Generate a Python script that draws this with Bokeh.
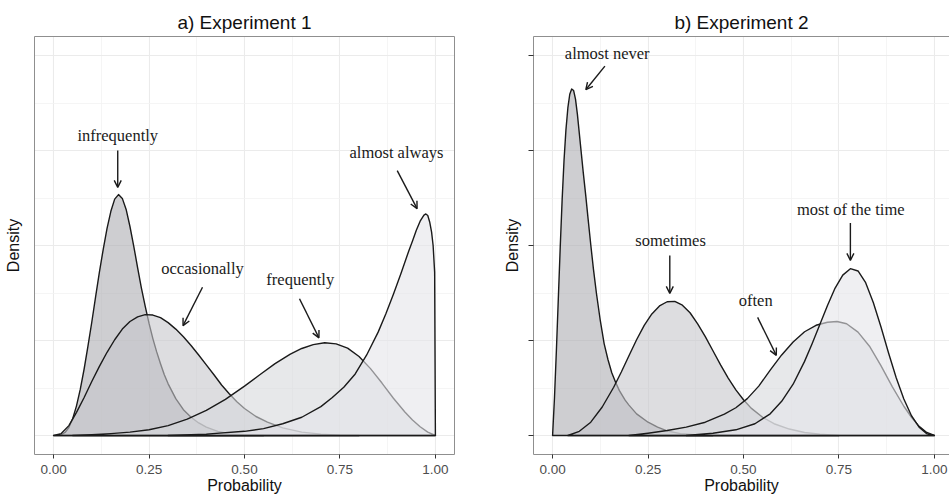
from bokeh.plotting import figure
from bokeh.layouts import row
from bokeh.models import ColumnDataSource, FixedTicker, Arrow, OpenHead, LinearAxis
from bokeh.core.properties import value
from bokeh.embed import file_html
from bokeh.resources import INLINE

# ---- Experiment 1: density of probability judgements per phrase ----
infrequently_x = [0.00, 0.01, 0.02, 0.03, 0.04, 0.05, 0.06, 0.07, 0.08, 0.09, 0.10, 0.11,
                  0.12, 0.13, 0.14, 0.15, 0.16, 0.17, 0.18, 0.19, 0.20, 0.21, 0.22, 0.23,
                  0.24, 0.25, 0.26, 0.27, 0.28, 0.29, 0.30, 0.32, 0.34, 0.36, 0.38, 0.40,
                  0.43, 0.46, 0.50, 0.55]
infrequently_y = [0.00, 0.00, 0.02, 0.08, 0.21, 0.44, 0.78, 1.22, 1.75, 2.35, 2.98, 3.65,
                  4.30, 4.90, 5.45, 5.90, 6.22, 6.34, 6.24, 5.95, 5.50, 4.98, 4.42, 3.88,
                  3.40, 2.95, 2.55, 2.20, 1.89, 1.60, 1.36, 0.97, 0.68, 0.48, 0.33, 0.22,
                  0.11, 0.05, 0.02, 0.00]

occasionally_x = [0.00, 0.02, 0.04, 0.06, 0.08, 0.10, 0.12, 0.14, 0.16, 0.18, 0.20, 0.22,
                  0.24, 0.26, 0.28, 0.30, 0.32, 0.34, 0.36, 0.38, 0.40, 0.42, 0.44, 0.46,
                  0.48, 0.50, 0.53, 0.56, 0.60, 0.65, 0.70, 0.75, 0.80]
occasionally_y = [0.00, 0.05, 0.26, 0.61, 1.00, 1.42, 1.82, 2.19, 2.52, 2.80, 3.00, 3.12,
                  3.18, 3.17, 3.10, 2.97, 2.80, 2.60, 2.37, 2.12, 1.86, 1.60, 1.33, 1.10,
                  0.89, 0.71, 0.50, 0.35, 0.20, 0.09, 0.035, 0.01, 0.00]

frequently_x = [0.05, 0.10, 0.15, 0.20, 0.25, 0.30, 0.35, 0.40, 0.45, 0.50, 0.54, 0.58,
                0.62, 0.65, 0.68, 0.71, 0.74, 0.77, 0.80, 0.83, 0.86, 0.89, 0.92, 0.94,
                0.96, 0.98, 1.00]
frequently_y = [0.00, 0.02, 0.05, 0.09, 0.15, 0.26, 0.43, 0.66, 0.95, 1.30, 1.60, 1.89,
                2.14, 2.29, 2.39, 2.44, 2.41, 2.30, 2.08, 1.76, 1.38, 0.98, 0.62, 0.41,
                0.23, 0.09, 0.00]

almost_always_x = [0.30, 0.40, 0.50, 0.55, 0.60, 0.65, 0.70, 0.73, 0.76, 0.79, 0.82, 0.85,
                   0.87, 0.89, 0.91, 0.93, 0.94, 0.95, 0.96, 0.97, 0.975, 0.98, 0.985,
                   0.99, 0.994, 0.998, 1.00]
almost_always_y = [0.00, 0.035, 0.11, 0.18, 0.31, 0.48, 0.76, 1.00, 1.27, 1.62, 2.12, 2.72,
                   3.20, 3.72, 4.27, 4.85, 5.12, 5.40, 5.64, 5.80, 5.83, 5.79, 5.62,
                   5.35, 5.00, 4.30, 0.00]

# ---- Experiment 2 ----
almost_never_x = [0.000, 0.005, 0.010, 0.015, 0.020, 0.025, 0.030, 0.035, 0.040, 0.045,
                  0.050, 0.055, 0.060, 0.065, 0.070, 0.075, 0.080, 0.087, 0.093, 0.100,
                  0.107, 0.115, 0.125, 0.135, 0.145, 0.155, 0.165, 0.175, 0.190, 0.200,
                  0.220, 0.250, 0.275, 0.300, 0.335, 0.380, 0.420]
almost_never_y = [0.00, 1.00, 2.25, 3.60, 4.95, 6.20, 7.25, 8.05, 8.62, 8.98,
                  9.12, 9.08, 8.85, 8.45, 7.95, 7.45, 6.95, 6.30, 5.70, 5.02,
                  4.38, 3.73, 3.02, 2.42, 2.00, 1.65, 1.40, 1.18, 0.93, 0.80,
                  0.57, 0.35, 0.22, 0.12, 0.05, 0.015, 0.00]

sometimes_x = [0.04, 0.07, 0.10, 0.13, 0.16, 0.18, 0.20, 0.22, 0.24, 0.26, 0.28, 0.30,
               0.32, 0.34, 0.36, 0.38, 0.40, 0.42, 0.44, 0.46, 0.48, 0.50, 0.52, 0.55,
               0.58, 0.62, 0.66, 0.70, 0.75]
sometimes_y = [0.00, 0.11, 0.35, 0.75, 1.27, 1.67, 2.10, 2.52, 2.90, 3.20, 3.41, 3.52,
               3.53, 3.43, 3.23, 2.94, 2.60, 2.23, 1.86, 1.51, 1.20, 0.94, 0.72, 0.48,
               0.31, 0.17, 0.08, 0.035, 0.00]

often_x = [0.20, 0.25, 0.30, 0.35, 0.40, 0.45, 0.48, 0.51, 0.54, 0.57, 0.60, 0.63,
           0.66, 0.69, 0.72, 0.745, 0.77, 0.80, 0.83, 0.86, 0.89, 0.92, 0.94, 0.96,
           0.98, 1.00]
often_y = [0.00, 0.06, 0.13, 0.22, 0.35, 0.56, 0.73, 0.97, 1.30, 1.72, 2.12, 2.46,
           2.73, 2.90, 2.98, 3.00, 2.94, 2.72, 2.35, 1.84, 1.28, 0.77, 0.48, 0.24,
           0.08, 0.00]

most_of_the_time_x = [0.35, 0.42, 0.48, 0.53, 0.57, 0.60, 0.63, 0.66, 0.68, 0.70, 0.72,
                      0.74, 0.76, 0.78, 0.80, 0.82, 0.84, 0.86, 0.88, 0.90, 0.92, 0.94,
                      0.96, 0.98, 1.00]
most_of_the_time_y = [0.00, 0.06, 0.15, 0.31, 0.57, 0.90, 1.35, 1.95, 2.42, 2.92, 3.42,
                      3.88, 4.22, 4.39, 4.33, 4.02, 3.50, 2.86, 2.17, 1.52, 0.96, 0.52,
                      0.22, 0.05, 0.00]

# ---- annotation labels and arrows (data coordinates) ----
exp1_labels = ["infrequently", "occasionally", "frequently", "almost always"]
exp1_label_x = [0.168, 0.390, 0.646, 0.898]
exp1_label_y = [7.89, 4.39, 4.10, 7.45]
exp1_arrow_x0 = [0.168, 0.390, 0.644, 0.900]
exp1_arrow_y0 = [7.50, 3.90, 3.60, 6.97]
exp1_arrow_x1 = [0.168, 0.339, 0.695, 0.952]
exp1_arrow_y1 = [6.53, 2.89, 2.57, 5.97]

exp2_labels = ["almost never", "sometimes", "often", "most of the time"]
exp2_label_x = [0.143, 0.309, 0.532, 0.781]
exp2_label_y = [10.06, 5.13, 3.55, 5.94]
exp2_arrow_x0 = [0.137, 0.307, 0.537, 0.780]
exp2_arrow_y0 = [9.72, 4.74, 3.11, 5.59]
exp2_arrow_x1 = [0.087, 0.307, 0.586, 0.780]
exp2_arrow_y1 = [9.10, 3.74, 2.11, 4.61]

x_ticks = [0.0, 0.25, 0.5, 0.75, 1.0]
x_tick_labels = ["0.00", "0.25", "0.50", "0.75", "1.00"]
x_minor = [0.125, 0.375, 0.625, 0.875]
y_ticks = [0.0, 2.5, 5.0, 7.5, 10.0]
y_minor = [1.25, 3.75, 6.25, 8.75]

FILLS = ["#adaeb3", "#c6c7cc", "#d7d8dc", "#e4e5e9"]
INK = "#1a1a1a"
BORDER = "#8f8f8f"
SANS = "Liberation Sans"
SERIF = "Liberation Serif"


def border_axis():
    # a bare axis used only to draw one side of the panel border
    return LinearAxis(ticker=FixedTicker(ticks=[]), axis_line_color=BORDER, axis_line_width=1,
                      major_tick_line_color=None, minor_tick_line_color=None,
                      major_label_text_font_size="0px")


def make_panel(title, curves, labels, lx, ly, ax0, ay0, ax1, ay1, width, frame_left,
               frame_right_pad, x_end, y_tick_marks, right_border):
    p = figure(width=width, height=498, x_range=(-0.05, x_end), y_range=(-0.5, 10.5),
               output_backend="svg", toolbar_location=None, title=title,
               min_border_left=frame_left, min_border_right=frame_right_pad,
               min_border_top=36, min_border_bottom=44)
    p.background_fill_color = "white"
    p.border_fill_color = "white"
    p.outline_line_color = None

    p.title.align = "center"
    p.title.text_font = SANS
    p.title.text_font_size = "19px"
    p.title.text_font_style = "normal"
    p.title.text_color = "#111111"
    p.title.standoff = 7

    # grid
    p.xgrid.ticker = FixedTicker(ticks=x_ticks, minor_ticks=x_minor)
    p.ygrid.ticker = FixedTicker(ticks=y_ticks, minor_ticks=y_minor)
    for g in (p.xgrid, p.ygrid):
        g.grid_line_color = "#ebebeb"
        g.grid_line_width = 1.1
        g.minor_grid_line_color = "#f2f2f2"
        g.minor_grid_line_width = 0.8

    # x axis
    xa = p.xaxis[0]
    xa.ticker = FixedTicker(ticks=x_ticks)
    xa.major_label_overrides = dict(zip(x_ticks, x_tick_labels))
    xa.axis_label = "Probability"
    xa.axis_label_text_font = SANS
    xa.axis_label_text_font_size = "16px"
    xa.axis_label_text_font_style = "normal"
    xa.axis_label_text_color = "#111111"
    xa.axis_label_standoff = 0
    xa.major_label_text_font = SANS
    xa.major_label_text_font_size = "13.5px"
    xa.major_label_text_color = "#4d4d4d"
    xa.major_label_standoff = 6
    xa.major_tick_out = 4
    xa.major_tick_in = 0
    xa.major_tick_line_color = "#333333"
    xa.minor_tick_line_color = None
    xa.axis_line_color = BORDER

    # y axis
    ya = p.yaxis[0]
    ya.axis_label = "Density"
    ya.axis_label_text_font = SANS
    ya.axis_label_text_font_size = "16px"
    ya.axis_label_text_font_style = "normal"
    ya.axis_label_text_color = "#111111"
    ya.minor_tick_line_color = None
    ya.axis_line_color = BORDER
    ya.major_label_standoff = 0
    if y_tick_marks:
        ya.ticker = FixedTicker(ticks=y_ticks)
        ya.major_label_overrides = {t: "" for t in y_ticks}
        ya.major_tick_out = 5
        ya.major_tick_in = 0
        ya.major_tick_line_color = "#333333"
        ya.axis_label_standoff = 8
    else:
        ya.ticker = FixedTicker(ticks=[])
        ya.major_tick_line_color = None
        ya.axis_label_standoff = 13

    p.add_layout(border_axis(), "above")
    if right_border:
        p.add_layout(border_axis(), "right")

    # densities, later ones drawn over earlier ones
    for (cx, cy), fill in zip(curves, FILLS):
        src = ColumnDataSource(dict(x=cx, y=cy))
        p.patch(x="x", y="y", source=src, fill_color=fill, fill_alpha=0.6,
                line_color=INK, line_width=1.4, line_join="round")

    lab = ColumnDataSource(dict(x=lx, y=ly, text=labels))
    p.text(x="x", y="y", text="text", source=lab, text_font=value(SERIF),
           text_font_size=value("16.5px"), text_align="center", text_baseline="middle",
           text_color=INK)

    arr = ColumnDataSource(dict(x0=ax0, y0=ay0, x1=ax1, y1=ay1))
    p.add_layout(Arrow(x_start="x0", y_start="y0", x_end="x1", y_end="y1", source=arr,
                       line_color=INK, line_width=1.4,
                       end=OpenHead(size=7, line_color=INK, line_width=1.4)))
    return p


pa = make_panel("a) Experiment 1",
                [(infrequently_x, infrequently_y), (occasionally_x, occasionally_y),
                 (frequently_x, frequently_y), (almost_always_x, almost_always_y)],
                exp1_labels, exp1_label_x, exp1_label_y,
                exp1_arrow_x0, exp1_arrow_y0, exp1_arrow_x1, exp1_arrow_y1,
                width=470, frame_left=34, frame_right_pad=16, x_end=1.05,
                y_tick_marks=False, right_border=True)

pb = make_panel("b) Experiment 2",
                [(almost_never_x, almost_never_y), (sometimes_x, sometimes_y),
                 (often_x, often_y), (most_of_the_time_x, most_of_the_time_y)],
                exp2_labels, exp2_label_x, exp2_label_y,
                exp2_arrow_x0, exp2_arrow_y0, exp2_arrow_x1, exp2_arrow_y1,
                width=479, frame_left=63, frame_right_pad=0, x_end=1.0396,
                y_tick_marks=True, right_border=False)

layout = row(pa, pb)
open("out.html", "w").write(file_html(layout, INLINE))
